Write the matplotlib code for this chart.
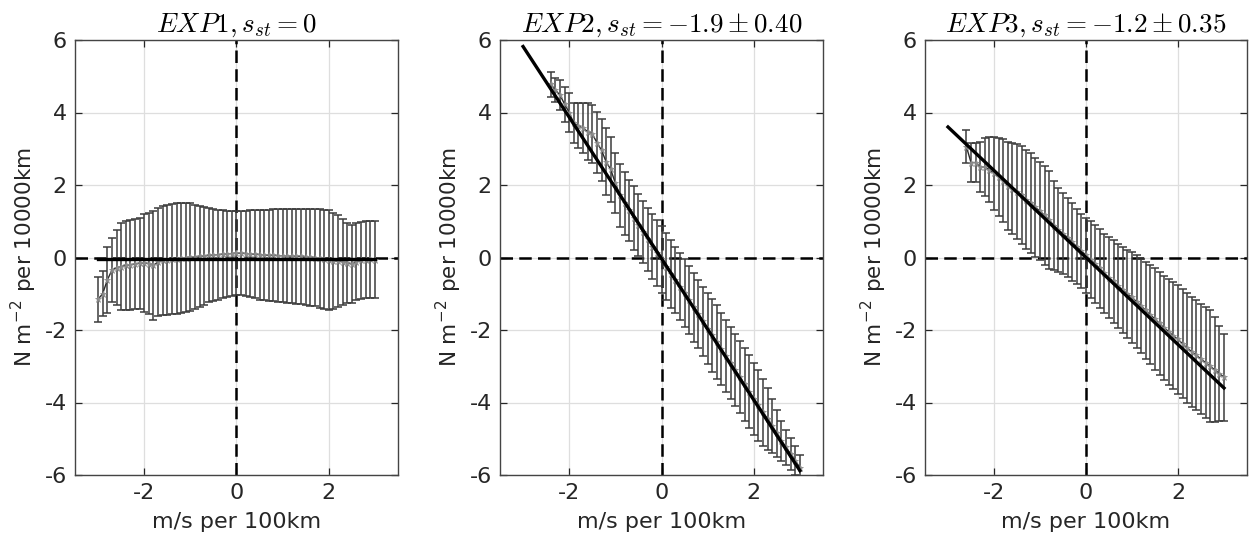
import numpy as np
import matplotlib
matplotlib.use("Agg")
import matplotlib.pyplot as plt

plt.rcParams['font.family'] = ['DejaVu Sans']
plt.rcParams['mathtext.fontset'] = 'cm'
plt.rcParams['axes.unicode_minus'] = False

# ---------------- data ----------------
x1 = [-3.0, -2.9, -2.8, -2.7, -2.6, -2.5, -2.4, -2.3, -2.2, -2.1, -2.0, -1.9, -1.8, -1.7, -1.6,
      -1.5, -1.4, -1.3, -1.2, -1.1, -1.0, -0.9, -0.8, -0.7, -0.6, -0.5, -0.4, -0.3, -0.2, -0.1,
      0.0, 0.1, 0.2, 0.3, 0.4, 0.5, 0.6, 0.7, 0.8, 0.9, 1.0, 1.1, 1.2, 1.3, 1.4, 1.5, 1.6, 1.7,
      1.8, 1.9, 2.0, 2.1, 2.2, 2.3, 2.4, 2.5, 2.6, 2.7, 2.8, 2.9, 3.0]
mean1 = [-1.15, -1.00, -0.62, -0.35, -0.28, -0.25, -0.22, -0.20, -0.18, -0.16, -0.15, -0.17,
         -0.22, -0.12, -0.08, -0.06, -0.05, -0.03, -0.02, 0.00, 0.01, 0.02, 0.03, 0.04, 0.06,
         0.07, 0.08, 0.09, 0.10, 0.11, 0.12, 0.12, 0.11, 0.10, 0.09, 0.08, 0.07, 0.06, 0.06,
         0.05, 0.05, 0.04, 0.04, 0.03, 0.03, 0.02, 0.01, 0.00, -0.02, -0.05, -0.07, -0.09,
         -0.10, -0.12, -0.15, -0.18, -0.12, -0.08, -0.06, -0.05, -0.06]
err1 = [0.62, 0.62, 0.90, 0.88, 1.04, 1.20, 1.22, 1.24, 1.24, 1.26, 1.34, 1.40, 1.50, 1.48,
        1.50, 1.52, 1.52, 1.53, 1.52, 1.50, 1.48, 1.44, 1.40, 1.35, 1.30, 1.27, 1.24, 1.21,
        1.19, 1.17, 1.15, 1.16, 1.18, 1.20, 1.22, 1.24, 1.25, 1.26, 1.27, 1.28, 1.28, 1.29,
        1.30, 1.31, 1.32, 1.33, 1.34, 1.35, 1.36, 1.37, 1.37, 1.33, 1.26, 1.18, 1.10, 1.08,
        1.06, 1.06, 1.06, 1.06, 1.06]

x2 = [-2.4, -2.3, -2.2, -2.1, -2.0, -1.9, -1.8, -1.7, -1.6, -1.5, -1.4, -1.3, -1.2, -1.1,
      -1.0, -0.9, -0.8, -0.7, -0.6, -0.5, -0.4, -0.3, -0.2, -0.1, 0.0, 0.1, 0.2, 0.3, 0.4,
      0.5, 0.6, 0.7, 0.8, 0.9, 1.0, 1.1, 1.2, 1.3, 1.4, 1.5, 1.6, 1.7, 1.8, 1.9, 2.0, 2.1,
      2.2, 2.3, 2.4, 2.5, 2.6, 2.7, 2.8, 2.9, 3.0]
mean2 = [4.78, 4.62, 4.48, 4.23, 4.00, 3.70, 3.63, 3.57, 3.47, 3.41, 3.17, 2.96, 2.64, 2.43,
         2.05, 1.72, 1.50, 1.30, 1.10, 0.90, 0.70, 0.50, 0.30, 0.12, -0.05, -0.25, -0.45,
         -0.62, -0.80, -0.98, -1.18, -1.37, -1.56, -1.76, -1.96, -2.15, -2.33, -2.52, -2.72,
         -2.91, -3.10, -3.30, -3.50, -3.70, -3.90, -4.08, -4.27, -4.45, -4.65, -4.85, -5.05,
         -5.24, -5.42, -5.60, -5.80]
err2 = [0.35, 0.33, 0.42, 0.48, 0.53, 0.55, 0.62, 0.70, 0.78, 0.81, 0.85, 0.86, 0.92, 0.90,
        0.83, 0.87, 0.87, 0.85, 0.88, 0.86, 0.85, 0.87, 0.90, 0.91, 0.92, 0.93, 0.93, 0.92,
        0.92, 0.93, 0.94, 0.95, 0.95, 0.96, 0.98, 1.00, 1.01, 1.00, 1.00, 1.00, 1.00, 1.00,
        1.00, 1.00, 1.00, 0.98, 0.92, 0.85, 0.75, 0.65, 0.55, 0.48, 0.45, 0.40, 0.35]

x3 = [-2.6, -2.5, -2.4, -2.3, -2.2, -2.1, -2.0, -1.9, -1.8, -1.7, -1.6, -1.5, -1.4, -1.3,
      -1.2, -1.1, -1.0, -0.9, -0.8, -0.7, -0.6, -0.5, -0.4, -0.3, -0.2, -0.1, 0.0, 0.1, 0.2,
      0.3, 0.4, 0.5, 0.6, 0.7, 0.8, 0.9, 1.0, 1.1, 1.2, 1.3, 1.4, 1.5, 1.6, 1.7, 1.8, 1.9,
      2.0, 2.1, 2.2, 2.3, 2.4, 2.5, 2.6, 2.7, 2.8, 2.9, 3.0]
mean3 = [3.06, 2.62, 2.62, 2.50, 2.50, 2.42, 2.32, 2.22, 2.12, 1.98, 1.90, 1.82, 1.72, 1.60,
         1.50, 1.38, 1.28, 1.16, 1.04, 0.88, 0.76, 0.66, 0.55, 0.42, 0.30, 0.18, 0.06, -0.06,
         -0.18, -0.30, -0.44, -0.56, -0.66, -0.78, -0.90, -1.00, -1.10, -1.22, -1.34, -1.46,
         -1.58, -1.70, -1.82, -1.94, -2.05, -2.16, -2.26, -2.38, -2.50, -2.60, -2.70, -2.80,
         -2.90, -3.00, -3.10, -3.20, -3.30]
err3 = [0.46, 0.53, 0.55, 0.70, 0.80, 0.90, 1.00, 1.08, 1.15, 1.22, 1.26, 1.30, 1.36, 1.36,
        1.38, 1.36, 1.36, 1.36, 1.35, 1.23, 1.15, 1.12, 1.10, 1.07, 1.04, 1.03, 1.04, 1.06,
        1.08, 1.10, 1.10, 1.12, 1.14, 1.16, 1.18, 1.22, 1.25, 1.28, 1.30, 1.33, 1.36, 1.40,
        1.42, 1.44, 1.46, 1.48, 1.50, 1.50, 1.52, 1.52, 1.52, 1.52, 1.54, 1.55, 1.45, 1.30,
        1.20]

fit_x = [-3.0, 3.0]
fit_slopes = [0.0, -1.95, -1.20]
fit_intercepts = [-0.05, -0.03, 0.0]

titles = [r'$EXP1, s_{st}=0$',
          r'$EXP2, s_{st}=-1.9\pm0.40$',
          r'$EXP3, s_{st}=-1.2\pm0.35$']
xlabel = 'm/s per 100km'
ylabel = r'N m$^{\mathregular{-2}}$ per 10000km'
xticks = [-2, 0, 2]
yticks = [-6, -4, -2, 0, 2, 4, 6]

series = [(x1, mean1, err1), (x2, mean2, err2), (x3, mean3, err3)]

# ---------------- figure ----------------
W, H = 1249, 538
fig = plt.figure(figsize=(W / 100, H / 100), dpi=100)
lefts_px = [75, 500, 925]
rights_px = [398, 823, 1247]
top_px, bot_px = 40, 475
txt = '#262626'

for i in range(3):
    l, r = lefts_px[i], rights_px[i]
    ax = fig.add_axes([l / W, 1 - bot_px / H, (r - l) / W, (bot_px - top_px) / H])
    xs, ms, es = series[i]
    ax.errorbar(xs, ms, yerr=es, fmt='none', ecolor='#3c3c3c', elinewidth=1.1,
                capsize=2.6, capthick=1.1, zorder=3)
    ax.plot(xs, ms, '-', color='#2a2a2a', lw=1.0, zorder=4)
    ax.plot(xs, ms, '*', color='#8c8c8c', ms=5, mew=0.5, zorder=4)
    fy = [fit_intercepts[i] + fit_slopes[i] * v for v in fit_x]
    ax.plot(fit_x, fy, '-', color='black', lw=2.4, zorder=5)
    ax.axhline(0, color='black', lw=1.8, ls=(0, (5, 2.5)), zorder=2)
    ax.axvline(0, color='black', lw=1.8, ls=(0, (5, 2.5)), zorder=2)

    ax.set_xlim(-3.5, 3.5)
    ax.set_ylim(-6, 6)
    ax.set_xticks(xticks)
    ax.set_yticks(yticks)
    ax.grid(True, color='#dedede', lw=0.9)
    ax.set_axisbelow(True)
    ax.tick_params(direction='in', top=True, right=True, length=5, width=0.9,
                   colors=txt, labelsize=16, pad=6)
    for s in ax.spines.values():
        s.set_color('#444444')
        s.set_linewidth(1.0)
    ax.set_xlabel(xlabel, fontsize=16, color=txt, labelpad=6)
    ax.set_ylabel(ylabel, fontsize=15.5, color=txt, labelpad=4)
    ax.set_title(titles[i], fontsize=19.5, color='black', pad=6)

fig.savefig('out.png', dpi=100)
